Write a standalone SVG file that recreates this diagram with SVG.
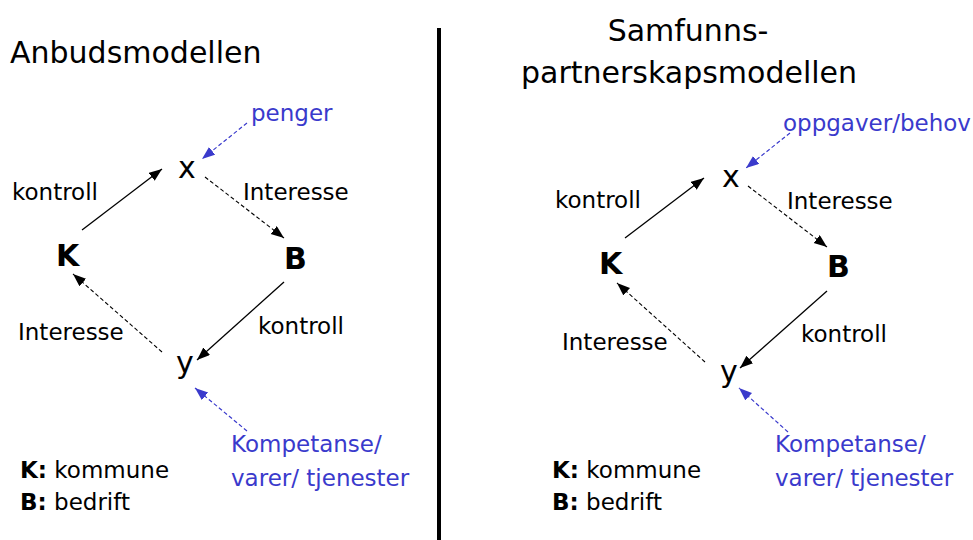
<svg xmlns="http://www.w3.org/2000/svg" width="973" height="540" viewBox="0 0 973 540">
<style>
text{font-family:"DejaVu Sans","Verdana",sans-serif;fill:#000}
.t{font-size:30px}
.l{font-size:23px}
.n{font-size:30px;font-weight:bold}
.v{font-size:30px}
.b{font-size:23px;fill:#3a3acc}
.s{stroke:#000;stroke-width:1.3;fill:none}
.d{stroke:#000;stroke-width:1.1;fill:none;stroke-dasharray:4 2.5}
.bd{stroke:#3a3acc;stroke-width:1.2;fill:none;stroke-dasharray:4 2.5}
</style>
<defs>
<marker id="ak" markerUnits="userSpaceOnUse" markerWidth="14" markerHeight="12" refX="13" refY="5" orient="auto"><path d="M0,0 L13,5 L0,10 Z" fill="#000"/></marker>
<marker id="ab" markerUnits="userSpaceOnUse" markerWidth="14" markerHeight="12" refX="13" refY="5" orient="auto"><path d="M0,0 L13,5 L0,10 Z" fill="#3a3acc"/></marker>
</defs>
<rect width="973" height="540" fill="#fff"/>
<line x1="439" y1="28" x2="439" y2="540" stroke="#000" stroke-width="4"/>
<g id="titles">
<text class="t" x="10" y="63">Anbudsmodellen</text>
<text class="t" x="688" y="41" text-anchor="middle">Samfunns-</text>
<text class="t" x="689" y="83" text-anchor="middle">partnerskapsmodellen</text>
</g>
<g id="left-x"><text class="v" x="178" y="178">x</text></g>
<g id="left-K"><text class="n" x="56" y="266">K</text></g>
<g id="left-B"><text class="n" x="284" y="269">B</text></g>
<g id="left-y"><text class="v" x="176" y="373">y</text></g>
<g id="left-penger"><text class="b" x="251" y="121">penger</text></g>
<g id="left-komp"><text class="b" x="231" y="452">Kompetanse/</text><text class="b" x="231" y="486">varer/ tjenester</text></g>
<g id="left-legend"><text class="l" x="20" y="478"><tspan font-weight="bold">K:</tspan> kommune</text><text class="l" x="20" y="510"><tspan font-weight="bold">B:</tspan> bedrift</text></g>
<g id="right-x"><text class="v" x="722" y="187">x</text></g>
<g id="right-K"><text class="n" x="599" y="274">K</text></g>
<g id="right-B"><text class="n" x="827" y="277">B</text></g>
<g id="right-y"><text class="v" x="720" y="382">y</text></g>
<g id="right-oppg"><text class="b" x="783" y="131">oppgaver/behov</text></g>
<g id="right-komp"><text class="b" x="775" y="452">Kompetanse/</text><text class="b" x="775" y="486">varer/ tjenester</text></g>
<g id="right-legend"><text class="l" x="552" y="478"><tspan font-weight="bold">K:</tspan> kommune</text><text class="l" x="552" y="510"><tspan font-weight="bold">B:</tspan> bedrift</text></g>
<g id="labels">
<text class="l" x="12" y="200">kontroll</text>
<text class="l" x="243" y="200">Interesse</text>
<text class="l" x="18" y="340">Interesse</text>
<text class="l" x="258" y="334">kontroll</text>
<text class="l" x="555" y="208">kontroll</text>
<text class="l" x="787" y="209">Interesse</text>
<text class="l" x="562" y="350">Interesse</text>
<text class="l" x="801" y="342">kontroll</text>
</g>
<g id="connectors">
<line class="s" x1="82" y1="230" x2="162" y2="169" marker-end="url(#ak)"/>
<line class="d" x1="205" y1="177" x2="284" y2="238" marker-end="url(#ak)"/>
<line class="s" x1="284" y1="282" x2="197" y2="360" marker-end="url(#ak)"/>
<line class="d" x1="162" y1="352" x2="73" y2="274" marker-end="url(#ak)"/>
<line class="bd" x1="247" y1="123" x2="202" y2="159" marker-end="url(#ab)"/>
<line class="bd" x1="247" y1="431" x2="195" y2="388" marker-end="url(#ab)"/>
<line class="s" x1="625" y1="238" x2="704" y2="178" marker-end="url(#ak)"/>
<line class="d" x1="748" y1="186" x2="827" y2="247" marker-end="url(#ak)"/>
<line class="s" x1="827" y1="291" x2="740" y2="368" marker-end="url(#ak)"/>
<line class="d" x1="705" y1="362" x2="617" y2="283" marker-end="url(#ak)"/>
<line class="bd" x1="790" y1="133" x2="746" y2="168" marker-end="url(#ab)"/>
<line class="bd" x1="788" y1="432" x2="739" y2="388" marker-end="url(#ab)"/>
</g>
</svg>
